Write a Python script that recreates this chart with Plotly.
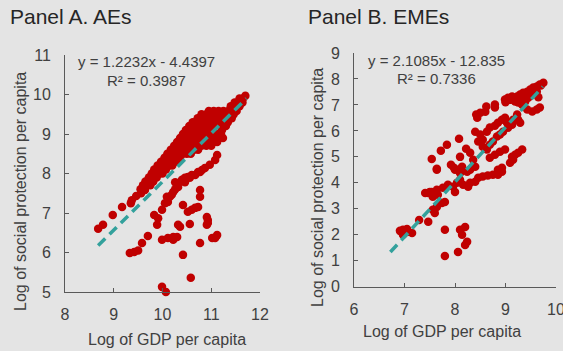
import plotly.graph_objects as go

# ---------------- data ----------------
panel_titles = ["Panel A. AEs", "Panel B. EMEs"]
x_title = "Log of GDP per capita"
y_title = "Log of social protection per capita"

# Panel A (advanced economies): (log GDP pc, log social protection pc)
aes_scatter = [
    (8.68, 6.60), (8.78, 6.70), (8.98, 6.95), (9.17, 7.15), (9.35, 7.25), (9.37, 7.32),
    (9.46, 7.43), (9.56, 7.50), (9.64, 7.58),
    (9.33, 5.99), (9.42, 6.01), (9.50, 6.05), (9.58, 6.24), (9.70, 6.42), (9.83, 6.95),
    (9.89, 6.70), (9.91, 6.87), (9.99, 7.08), (10.05, 7.25), (10.11, 7.28), (10.15, 7.41),
    (9.99, 6.32), (10.11, 6.37), (10.22, 6.32), (10.30, 6.39), (10.22, 6.39),
    (9.99, 5.13), (10.07, 5.00),
    (10.42, 7.20), (10.52, 7.03), (10.60, 7.08), (10.67, 7.13), (10.73, 7.15),
    (10.77, 7.58), (10.77, 7.41),
    (10.32, 6.70), (10.36, 6.65), (10.56, 6.72), (10.91, 6.90), (10.93, 6.82),
    (10.93, 6.75), (10.91, 6.70),
    (11.02, 6.37), (11.08, 6.37), (11.12, 6.44), (10.77, 6.24), (10.42, 5.94), (10.58, 5.36),
    (10.09, 7.41), (10.19, 7.46), (10.22, 7.53), (10.26, 7.60), (10.32, 7.66), (10.26, 7.78),
    (10.32, 7.76), (10.40, 7.84), (10.46, 7.78), (10.46, 7.89), (10.52, 7.91), (10.56, 7.89),
    (10.60, 7.96), (10.67, 7.96), (10.73, 8.04), (10.77, 8.04), (10.81, 8.09), (10.87, 8.14),
    (10.97, 8.22), (11.08, 8.34), (11.12, 8.47), (11.24, 8.90),
]
aes_cloud = [
    (9.55, 7.6), (9.63, 7.6),
    (9.60, 7.7), (9.68, 7.7), (9.75, 7.7),
    (9.65, 7.8), (9.73, 7.8), (9.81, 7.8),
    (9.72, 7.9), (9.80, 7.9), (9.88, 7.9),
    (9.78, 8.0), (9.86, 8.0), (9.94, 8.0), (10.00, 8.0),
    (9.83, 8.1), (9.91, 8.1), (9.99, 8.1), (10.07, 8.1),
    (9.90, 8.2), (9.98, 8.2), (10.06, 8.2), (10.14, 8.2), (10.20, 8.2),
    (9.97, 8.3), (10.05, 8.3), (10.13, 8.3), (10.21, 8.3), (10.28, 8.3),
    (10.04, 8.4), (10.12, 8.4), (10.20, 8.4), (10.28, 8.4), (10.36, 8.4),
    (10.10, 8.5), (10.18, 8.5), (10.26, 8.5), (10.34, 8.5), (10.42, 8.5), (10.50, 8.5), (10.58, 8.5),
    (10.17, 8.6), (10.25, 8.6), (10.33, 8.6), (10.41, 8.6), (10.49, 8.6), (10.57, 8.6),
    (10.65, 8.6), (10.73, 8.6),
    (10.24, 8.7), (10.32, 8.7), (10.40, 8.7), (10.48, 8.7), (10.56, 8.7), (10.64, 8.7),
    (10.72, 8.7), (10.80, 8.7), (10.90, 8.7), (11.00, 8.7),
    (10.30, 8.8), (10.38, 8.8), (10.46, 8.8), (10.54, 8.8), (10.62, 8.8), (10.70, 8.8),
    (10.78, 8.8), (10.86, 8.8), (10.95, 8.8), (11.05, 8.8), (11.12, 8.8),
    (10.36, 8.9), (10.44, 8.9), (10.52, 8.9), (10.60, 8.9), (10.68, 8.9), (10.76, 8.9),
    (10.84, 8.9), (10.92, 8.9), (11.00, 8.9), (11.08, 8.9), (11.16, 8.9),
    (10.42, 9.0), (10.50, 9.0), (10.58, 9.0), (10.66, 9.0), (10.74, 9.0), (10.82, 9.0),
    (10.90, 9.0), (10.98, 9.0), (11.06, 9.0), (11.14, 9.0), (11.20, 9.0),
    (10.48, 9.1), (10.56, 9.1), (10.64, 9.1), (10.72, 9.1), (10.80, 9.1), (10.88, 9.1),
    (10.96, 9.1), (11.04, 9.1), (11.22, 9.1),
    (10.55, 9.2), (10.63, 9.2), (10.71, 9.2), (10.79, 9.2), (10.87, 9.2), (10.95, 9.2),
    (11.03, 9.2), (11.25, 9.2), (11.30, 9.2),
    (10.62, 9.3), (10.70, 9.3), (10.78, 9.3), (10.86, 9.3), (10.94, 9.3), (11.02, 9.3),
    (11.10, 9.3), (11.18, 9.3), (11.26, 9.3), (11.34, 9.3),
    (10.72, 9.4), (10.80, 9.4), (10.88, 9.4), (10.96, 9.4), (11.04, 9.4), (11.12, 9.4),
    (11.20, 9.4), (11.28, 9.4), (11.36, 9.4), (11.42, 9.4),
    (10.80, 9.5), (10.90, 9.5), (11.00, 9.5), (11.10, 9.5), (11.20, 9.5), (11.30, 9.5),
    (11.38, 9.5), (11.46, 9.5),
    (10.95, 9.58), (11.05, 9.58), (11.15, 9.58), (11.25, 9.58), (11.35, 9.58), (11.45, 9.58),
    (11.52, 9.58),
    (11.40, 9.7), (11.50, 9.7), (11.58, 9.7),
    (11.48, 9.8), (11.56, 9.8), (11.64, 9.8),
    (11.58, 9.9), (11.65, 9.9),
    (11.70, 9.97),
]

# Panel B (emerging market economies)
emes_points = [
    (7.54, 4.92), (7.64, 4.54), (7.72, 5.24), (7.84, 5.47), (8.08, 5.70),
    (7.92, 4.70), (7.98, 4.58), (8.06, 4.50), (8.14, 4.62),
    (8.10, 5.00), (8.22, 5.31), (8.30, 5.16), (8.36, 4.89), (8.40, 4.62),
    (8.42, 6.63), (8.44, 6.51), (8.50, 6.70), (8.60, 6.74), (8.62, 6.94), (8.79, 7.02), (8.79, 6.90),
    (8.40, 5.97), (8.50, 5.86), (8.55, 5.66), (8.63, 5.97), (8.69, 6.13), (8.79, 6.20),
    (8.85, 6.31), (8.93, 6.43), (8.99, 6.51), (9.03, 6.31), (9.05, 6.12), (9.13, 6.24),
    (9.15, 6.43), (9.23, 6.63), (9.25, 6.43), (9.29, 6.31),
    (8.46, 5.59), (8.55, 5.39), (8.63, 5.28), (8.69, 5.47), (8.75, 5.59), (8.83, 5.78),
    (8.89, 5.86), (8.95, 5.97),
    (8.69, 4.97), (8.79, 5.08), (8.89, 5.20), (8.99, 5.28), (9.13, 5.00), (9.19, 5.08),
    (9.25, 5.16), (9.33, 5.28), (9.15, 4.89), (9.09, 4.77), (8.93, 4.58), (8.85, 4.50),
    (8.99, 7.21), (9.05, 7.28), (9.13, 7.32), (9.19, 7.13), (9.25, 7.09), (9.23, 7.32),
    (9.29, 7.40), (9.35, 7.47), (9.43, 7.51), (9.49, 7.59), (9.55, 7.67), (9.62, 7.71),
    (9.68, 7.79), (9.62, 7.51), (9.53, 7.40), (9.45, 7.28), (9.39, 7.13), (9.33, 7.01),
    (9.43, 6.82), (9.53, 6.75), (9.62, 6.82), (9.68, 6.90),
    (9.75, 7.85), (9.70, 7.75), (9.60, 7.60), (9.50, 7.50), (9.40, 7.35), (9.30, 7.20),
    (9.10, 7.20), (9.00, 7.10), (9.65, 7.30), (9.58, 7.45),
    (7.64, 4.50), (7.47, 3.61), (7.54, 3.65), (7.66, 3.54), (7.76, 3.81), (7.86, 3.93),
    (7.96, 3.85), (8.00, 3.65), (8.04, 4.00), (8.10, 4.12), (8.16, 3.93), (8.26, 3.85),
    (8.30, 4.00), (8.40, 4.04), (8.46, 4.20), (8.55, 4.24), (8.65, 4.28), (8.75, 4.31),
    (8.85, 4.31), (8.93, 4.43), (8.00, 4.50), (8.10, 4.38), (8.24, 4.43), (8.30, 4.50),
    (7.41, 3.61), (7.50, 3.65), (7.56, 3.46), (7.64, 3.73),
    (7.56, 2.96), (7.60, 2.84), (7.64, 3.07), (7.74, 3.22), (7.80, 3.26),
    (7.29, 2.57), (7.47, 2.50),
    (6.91, 2.15), (6.97, 2.19), (7.05, 2.11), (7.15, 2.07), (6.97, 2.00), (7.05, 2.22),
    (7.80, 2.19), (8.10, 2.19), (8.20, 2.30), (8.14, 2.00),
    (8.24, 1.73), (8.20, 1.61), (7.80, 1.18), (8.06, 1.34),
]

# Linear fits shown on the chart: slope, intercept, x-span of the drawn line
aes_fit = (1.2232, -4.4397)
aes_fit_x = [8.68, 11.72]
emes_fit = (2.1085, -12.835)
emes_fit_x = [6.72, 9.74]
aes_eq = ["y = 1.2232x - 4.4397", "R² = 0.3987"]
emes_eq = ["y = 2.1085x - 12.835", "R² = 0.7336"]

aes_xrange, aes_yrange = [8, 12], [5, 11]
emes_xrange, emes_yrange = [6, 10], [0, 9]

# ---------------- styling ----------------
W, H = 563, 351
BG = "#e4e4e4"
RED = "#c00000"
TEAL = "#33a19c"
AX = "#595959"
TXT = "#404040"
FONT = "Liberation Sans, Arial, sans-serif"

def px_dom(a, b, total):
    return [a / total, b / total]

def py_dom(top, bottom):
    return [1 - bottom / H, 1 - top / H]

fig = go.Figure()

aes_all = aes_scatter + aes_cloud
fig.add_trace(go.Scatter(
    x=[p[0] for p in aes_all], y=[p[1] for p in aes_all], mode="markers",
    marker=dict(color=RED, size=8.5, line=dict(width=0)),
    xaxis="x", yaxis="y", hoverinfo="skip", cliponaxis=False))
fig.add_trace(go.Scatter(
    x=aes_fit_x, y=[aes_fit[0] * v + aes_fit[1] for v in aes_fit_x], mode="lines",
    line=dict(color=TEAL, width=3.5, dash="10px,6px"),
    xaxis="x", yaxis="y", hoverinfo="skip"))

fig.add_trace(go.Scatter(
    x=[p[0] for p in emes_points], y=[p[1] for p in emes_points], mode="markers",
    marker=dict(color=RED, size=8.5, line=dict(width=0)),
    xaxis="x2", yaxis="y2", hoverinfo="skip", cliponaxis=False))
fig.add_trace(go.Scatter(
    x=emes_fit_x, y=[emes_fit[0] * v + emes_fit[1] for v in emes_fit_x], mode="lines",
    line=dict(color=TEAL, width=3.5, dash="10px,6px"),
    xaxis="x2", yaxis="y2", hoverinfo="skip"))

axis_common = dict(
    showgrid=False, zeroline=False, showline=True, linecolor=AX, linewidth=1,
    ticks="inside", ticklen=4, tickcolor=AX, tickwidth=1, dtick=1,
    tickfont=dict(family=FONT, size=16, color=TXT), fixedrange=True,
    automargin=False, ticklabeloverflow="allow",
)

fig.update_layout(
    width=W, height=H, margin=dict(l=0, r=0, t=0, b=0, autoexpand=False),
    paper_bgcolor=BG, plot_bgcolor=BG, showlegend=False,
    font=dict(family=FONT, color=TXT),
    xaxis=dict(axis_common, domain=px_dom(65, 260, W), range=aes_xrange,
               anchor="y", ticklabelstandoff=8),
    yaxis=dict(axis_common, domain=py_dom(55, 292), range=aes_yrange,
               anchor="x", ticklabelstandoff=10),
    xaxis2=dict(axis_common, domain=px_dom(354, 556, W), range=emes_xrange,
                anchor="y2", ticklabelstandoff=8),
    yaxis2=dict(axis_common, domain=py_dom(53, 286.7), range=emes_yrange,
                anchor="x2", ticklabelstandoff=10),
)

def ann(text, x, y, size, xanchor="center", color=TXT, angle=0):
    fig.add_annotation(text=text, x=x / W, y=1 - y / H, xref="paper", yref="paper",
                       showarrow=False, xanchor=xanchor, yanchor="middle",
                       textangle=angle, font=dict(family=FONT, size=size, color=color))

# panel titles
ann(panel_titles[0], 8, 16, 21, xanchor="left", color="#262626")
ann(panel_titles[1], 306, 16, 21, xanchor="left", color="#262626")
# axis titles
ann(x_title, 167, 339, 16)
ann(x_title, 442, 331, 16)
ann(y_title, 20, 192, 16, angle=-90)
ann(y_title, 317, 188, 16, angle=-90)
# fit equations
ann(aes_eq[0], 146, 62, 15)
ann(aes_eq[1], 146, 80, 15)
ann(emes_eq[0], 436, 60, 15)
ann(emes_eq[1], 436, 78.5, 15)

fig.write_html("out.html")
